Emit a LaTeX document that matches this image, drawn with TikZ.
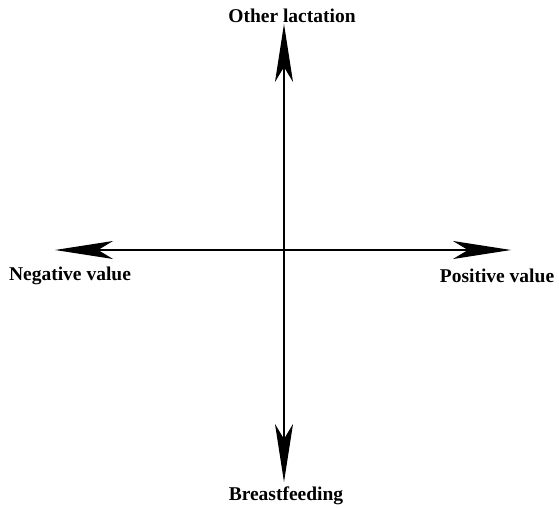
\documentclass[tikz,border=0pt]{standalone}
\usepackage{fontspec}
\setmainfont{Liberation Serif}
\usetikzlibrary{arrows.meta}
\begin{document}
\begin{tikzpicture}[x=1pt, y=-1pt,
        axislabel/.style={font=\fontsize{19.5}{22}\selectfont\bfseries, inner sep=0pt},
        axisarrow/.style={line width=1.3pt, -{Stealth[length=58pt, width=18pt, inset=15pt]}}]
        % fixed frame
        \useasboundingbox (0,0) rectangle (559,508);

        % ends of the axes
        \coordinate (O) at (284,250);
        \coordinate (top) at (284,24);
        \coordinate (bottom) at (284,482);
        \coordinate (left) at (55,250);
        \coordinate (right) at (511,250);

        % axes with arrows
        \draw[axisarrow] (O) -- (top);
        \draw[axisarrow] (O) -- (bottom);
        \draw[axisarrow] (O) -- (left);
        \draw[axisarrow] (O) -- (right);

        % labels
        \node[axislabel] (other) at (292,16) {Other lactation};
        \node[axislabel] (breast) at (286,496) {Breastfeeding};
        \node[axislabel] (neg) at (70,276) {Negative value};
        \node[axislabel] (pos) at (497,276) {Positive value};
    \end{tikzpicture}
\end{document}
